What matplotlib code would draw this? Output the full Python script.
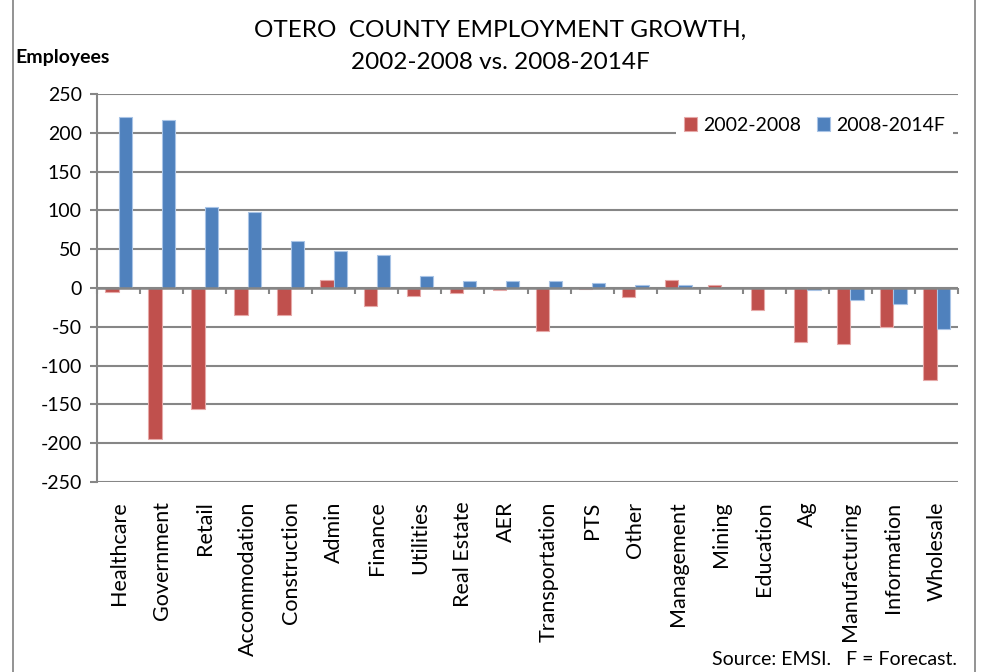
import numpy as np
import matplotlib.pyplot as plt
from matplotlib.patches import Rectangle

plt.rcParams['font.family'] = ['Lato', 'DejaVu Sans']
plt.rcParams['axes.unicode_minus'] = False

categories = ["Healthcare", "Government", "Retail", "Accommodation", "Construction",
              "Admin", "Finance", "Utilities", "Real Estate", "AER", "Transportation",
              "PTS", "Other", "Management", "Mining", "Education", "Ag",
              "Manufacturing", "Information", "Wholesale"]
growth_02_08 = [-5, -195, -156, -35, -35, 11, -23, -10, -6, -3, -55,
                -1, -11, 11, 4, -28, -70, -72, -50, -119]
growth_08_14 = [221, 216, 105, 98, 60, 48, 43, 16, 9, 9, 9,
                6, 4, 4, 0, 0, -3, -16, -20, -53]

red = "#C0504D"
blue = "#4F81BD"
grid_c = "#868686"

fig = plt.figure(figsize=(9.81, 6.72), dpi=100)
ax = fig.add_axes([0.0989, 0.2827, 0.8777, 0.5773])

x = np.arange(len(categories))
w = 0.31
ax.bar(x - w / 2, growth_02_08, width=w, color=red, edgecolor="#E6A9A8", linewidth=0.8,
       label="2002-2008", zorder=3)
ax.bar(x + w / 2, growth_08_14, width=w, color=blue, edgecolor="#A9C4E6", linewidth=0.8,
       label="2008-2014F", zorder=3)

ax.set_xlim(-0.5, len(categories) - 0.5)
ax.set_ylim(-250, 250)
ax.set_yticks(np.arange(-250, 251, 50))
ax.yaxis.grid(True, color=grid_c, linewidth=1.5, zorder=0)
ax.axhline(0, color=grid_c, linewidth=1.8, zorder=4)

# category boundary ticks hanging below the zero line
bounds = np.arange(-0.5, len(categories), 1.0)
ax.vlines(bounds, 0, -8, color=grid_c, linewidth=1.5, zorder=4, clip_on=False)

for s in ["top", "right", "bottom"]:
    ax.spines[s].set_visible(False)
ax.spines["left"].set_color(grid_c)
ax.spines["left"].set_linewidth(1.5)
ax.tick_params(axis="y", direction="out", length=5, width=1.5, color=grid_c,
               labelsize=14, pad=6)

ax.set_xticks(x)
ax.set_xticklabels(categories, rotation=90, fontsize=15.5)
ax.tick_params(axis="x", length=0, pad=14)

leg = ax.legend(loc="center right", bbox_to_anchor=(1.005, 0.92), ncol=2, frameon=True,
                fontsize=14, handlelength=0.7, handleheight=0.7, handletextpad=0.3,
                columnspacing=0.8, borderpad=0.4, fancybox=False)
leg.get_frame().set_facecolor("white")
leg.get_frame().set_edgecolor("none")
leg.get_frame().set_alpha(1)
leg.set_zorder(5)

fig.text(0.51, 0.955, "OTERO  COUNTY EMPLOYMENT GROWTH,", ha="center", va="center", fontsize=17.5)
fig.text(0.51, 0.907, "2002-2008 vs. 2008-2014F", ha="center", va="center", fontsize=17.5)
fig.text(0.016, 0.915, "Employees", ha="left", va="center", fontsize=14, fontweight="bold")
fig.text(0.976, 0.018, "Source: EMSI.   F = Forecast.", ha="right", va="center", fontsize=14)

fig.patches.append(Rectangle((0.013, -0.01), 0.981, 1.02, transform=fig.transFigure,
                             fill=False, edgecolor="#808080", linewidth=1.2))

plt.savefig("out.png", dpi=100)
